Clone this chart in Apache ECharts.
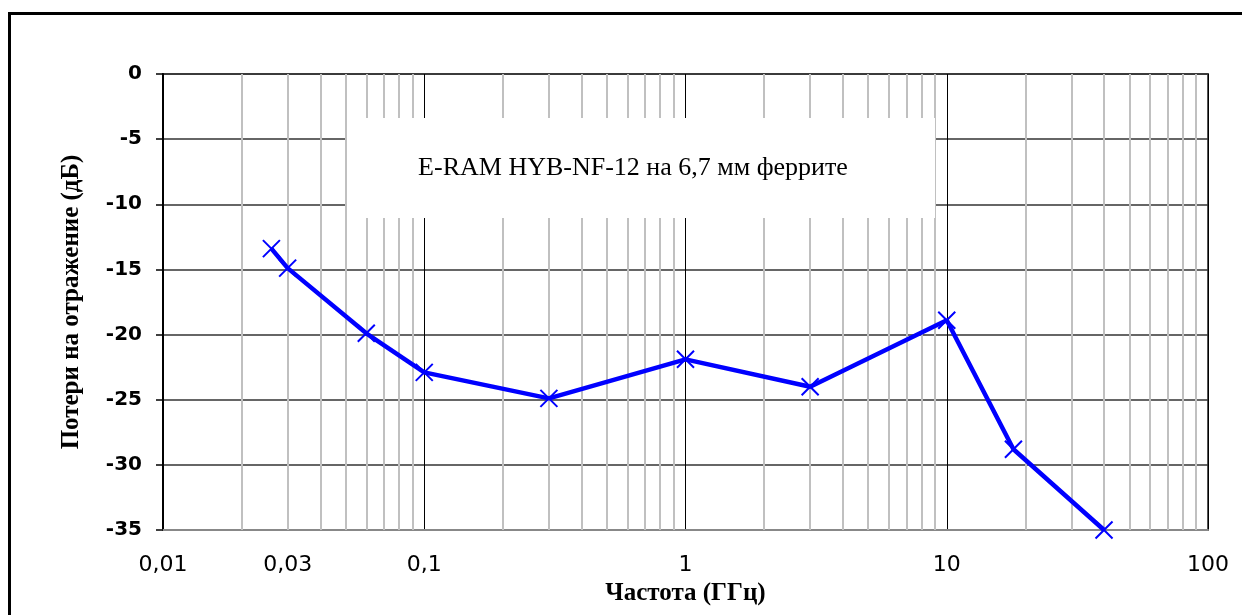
<!DOCTYPE html>
<html>
<head>
<meta charset="utf-8">
<script src="https://cdn.jsdelivr.net/npm/echarts@6/dist/echarts.min.js"></script>
<style>html,body{margin:0;padding:0;background:#fff;}#c{width:1242px;height:615px;}</style>
</head>
<body>
<div id="c"></div>
<script>
// Data
const freqGHz = [0.026, 0.03, 0.06, 0.1, 0.3, 1, 3, 10, 18, 40];
const lossDb = [-13.4, -14.9, -19.9, -22.9, -24.9, -21.9, -24, -18.9, -28.8, -35];
const minorGrid = [0.02,0.03,0.04,0.05,0.06,0.07,0.08,0.09,
                   0.2,0.3,0.4,0.5,0.6,0.7,0.8,0.9,
                   2,3,4,5,6,7,8,9,
                   20,30,40,50,60,70,80,90];
const extraTickLabels = {0.03: '0,03'};
const titleText = 'E-RAM HYB-NF-12 на 6,7 мм феррите';
const xName = 'Частота (ГГц)';
const yName = 'Потери на отражение (дБ)';

const chart = echarts.init(document.getElementById('c'), null, {renderer: 'canvas'});

const labelStyle = {fontFamily: 'DejaVu Sans', fontSize: 22, color: '#000'};

const markData = minorGrid.map(v => {
  const item = {xAxis: v};
  if (extraTickLabels[v] !== undefined) {
    item.label = Object.assign({show: true, position: 'start', distance: 24,
      formatter: extraTickLabels[v]}, labelStyle);
  }
  return item;
});

const option = {
  animation: false,
  backgroundColor: '#fff',
  grid: {left: 163, top: 74, right: 34, bottom: 85, show: true, borderColor: '#555', borderWidth: 2, backgroundColor: 'transparent'},
  xAxis: {
    type: 'log', logBase: 10, min: 0.01, max: 100,
    name: xName, nameLocation: 'middle', nameGap: 41,
    nameTextStyle: {fontFamily: 'Liberation Serif', fontWeight: 'bold', fontSize: 25, color: '#000'},
    axisLine: {show: true, onZero: false, lineStyle: {color: '#888', width: 2}},
    axisTick: {show: false},
    axisLabel: Object.assign({margin: 24, formatter: v => String(v).replace('.', ',')}, labelStyle),
    splitLine: {show: true, lineStyle: {color: '#000', width: 1}},
    minorTick: {show: false}, minorSplitLine: {show: false}
  },
  yAxis: {
    type: 'value', min: -35, max: 0, interval: 5,
    name: yName, nameLocation: 'middle', nameGap: 79,
    nameTextStyle: {fontFamily: 'Liberation Serif', fontWeight: 'bold', fontSize: 25, color: '#000'},
    axisLine: {show: true, onZero: false, lineStyle: {color: '#000', width: 2}},
    axisTick: {show: true, length: 7, lineStyle: {color: '#000', width: 1.5}},
    axisLabel: {margin: 21, fontFamily: 'DejaVu Sans', fontWeight: 'bold', fontSize: 20, color: '#000'},
    splitLine: {show: true, lineStyle: {color: '#333', width: 1.5}}
  },
  series: [{
    type: 'line',
    data: freqGHz.map((f, i) => [f, lossDb[i]]),
    symbol: 'path://M0,0L10,10M10,0L0,10',
    symbolSize: 17,
    showAllSymbol: true,
    lineStyle: {color: '#0000ff', width: 4.5},
    itemStyle: {color: 'rgba(0,0,0,0)', borderColor: '#0000ff', borderWidth: 2},
    z: 5,
    markLine: {
      silent: true, symbol: ['none', 'none'],
      lineStyle: {color: '#c0c0c0', width: 2, type: 'solid'},
      label: {show: false},
      emphasis: {disabled: true},
      data: markData,
      z: 1
    }
  }],
  graphic: [
    {type: 'rect', left: 7, top: 11, z: 200, silent: true,
     shape: {width: 1260, height: 640}, style: {fill: 'none', stroke: '#000', lineWidth: 3}},
    {type: 'rect', left: 347, top: 118, z: 100, silent: true,
     shape: {width: 588, height: 100}, style: {fill: '#fff', stroke: 'none'}},
    {type: 'text', x: 633, y: 168, z: 101, silent: true,
     style: {text: titleText, fontFamily: 'Liberation Serif', fontSize: 26, fill: '#000', align: 'center', verticalAlign: 'middle'}}
  ]
};
chart.setOption(option);
</script>
</body>
</html>
